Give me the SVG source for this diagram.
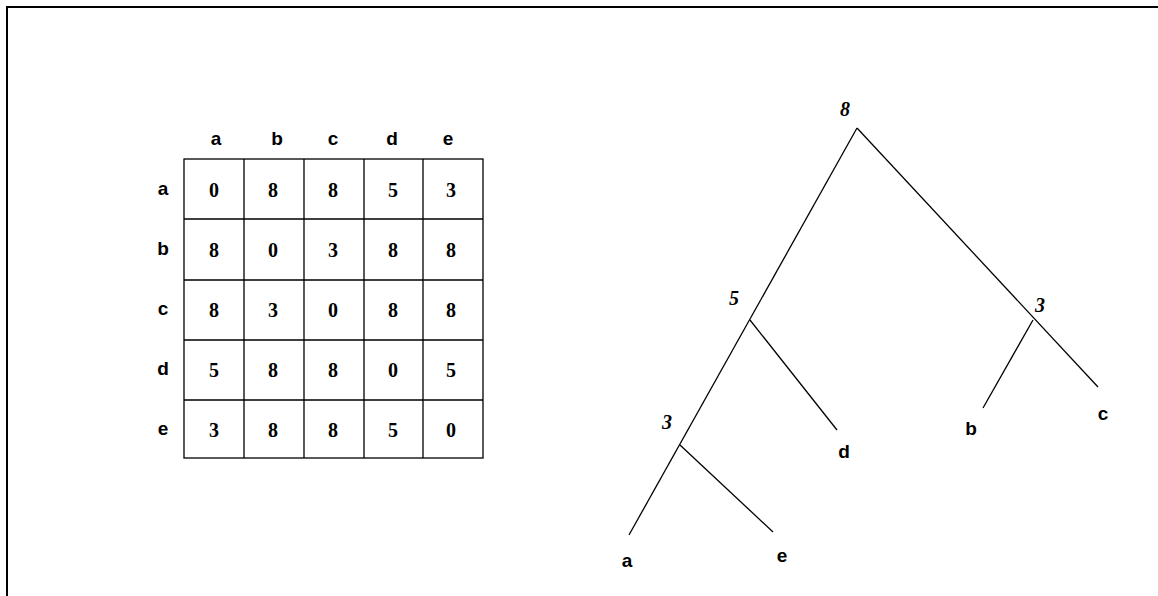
<svg xmlns="http://www.w3.org/2000/svg" width="1158" height="596" viewBox="0 0 1158 596">
<style>
.hdr{font-family:"Liberation Sans",Arial,sans-serif;font-weight:bold;font-size:19px;fill:#000;text-anchor:middle}
.num{font-family:"Liberation Serif","Times New Roman",serif;font-weight:bold;font-size:20px;fill:#000;text-anchor:middle}
.nl{font-family:"Liberation Serif","Times New Roman",serif;font-weight:bold;font-style:italic;font-size:20px;fill:#000;text-anchor:middle}
.grid{stroke:#000;stroke-width:1.3;fill:none}
.edge{stroke:#000;stroke-width:1.3;fill:none}
</style>
<rect width="1158" height="596" fill="#fff"/>
<path d="M7,596 V7 H1158" stroke="#000" stroke-width="2" fill="none"/>
<g id="matrix">
<g class="grid">
<rect x="184" y="159" width="299" height="299"/>
<path d="M244,159V458M304,159V458M364,159V458M423,159V458M184,219H483M184,280H483M184,340H483M184,400H483"/>
</g>
<g class="hdr">
<text x="216" y="145">a</text><text x="277" y="145">b</text><text x="333" y="145">c</text><text x="392" y="145">d</text><text x="448" y="145">e</text>
<text x="163" y="195">a</text><text x="163" y="255">b</text><text x="163" y="315">c</text><text x="163" y="375">d</text><text x="163" y="435">e</text>
</g>
<g class="num">
<text x="214" y="197">0</text><text x="273" y="197">8</text><text x="333" y="197">8</text><text x="393" y="197">5</text><text x="451" y="197">3</text>
<text x="214" y="257">8</text><text x="273" y="257">0</text><text x="333" y="257">3</text><text x="393" y="257">8</text><text x="451" y="257">8</text>
<text x="214" y="317">8</text><text x="273" y="317">3</text><text x="333" y="317">0</text><text x="393" y="317">8</text><text x="451" y="317">8</text>
<text x="214" y="377">5</text><text x="273" y="377">8</text><text x="333" y="377">8</text><text x="393" y="377">0</text><text x="451" y="377">5</text>
<text x="214" y="437">3</text><text x="273" y="437">8</text><text x="333" y="437">8</text><text x="393" y="437">5</text><text x="451" y="437">0</text>
</g>
</g>
<g id="connectors" class="edge">
<path d="M857,128 L629,535"/>
<path d="M857,128 L1098,387"/>
<path d="M750,320 L837,430"/>
<path d="M680,445 L773,532"/>
<path d="M1033,320 L983,408"/>
</g>
<g id="node-root"><text class="nl" x="845" y="116">8</text></g>
<g id="node-5"><text class="nl" x="734" y="305">5</text></g>
<g id="node-3"><text class="nl" x="667" y="429">3</text></g>
<g id="node-bc"><text class="nl" x="1040" y="312">3</text></g>
<g id="leaf-a"><text class="hdr" x="627" y="567">a</text></g>
<g id="leaf-e"><text class="hdr" x="782" y="562">e</text></g>
<g id="leaf-d"><text class="hdr" x="844" y="458">d</text></g>
<g id="leaf-b"><text class="hdr" x="971" y="435">b</text></g>
<g id="leaf-c"><text class="hdr" x="1103" y="420">c</text></g>
</svg>
